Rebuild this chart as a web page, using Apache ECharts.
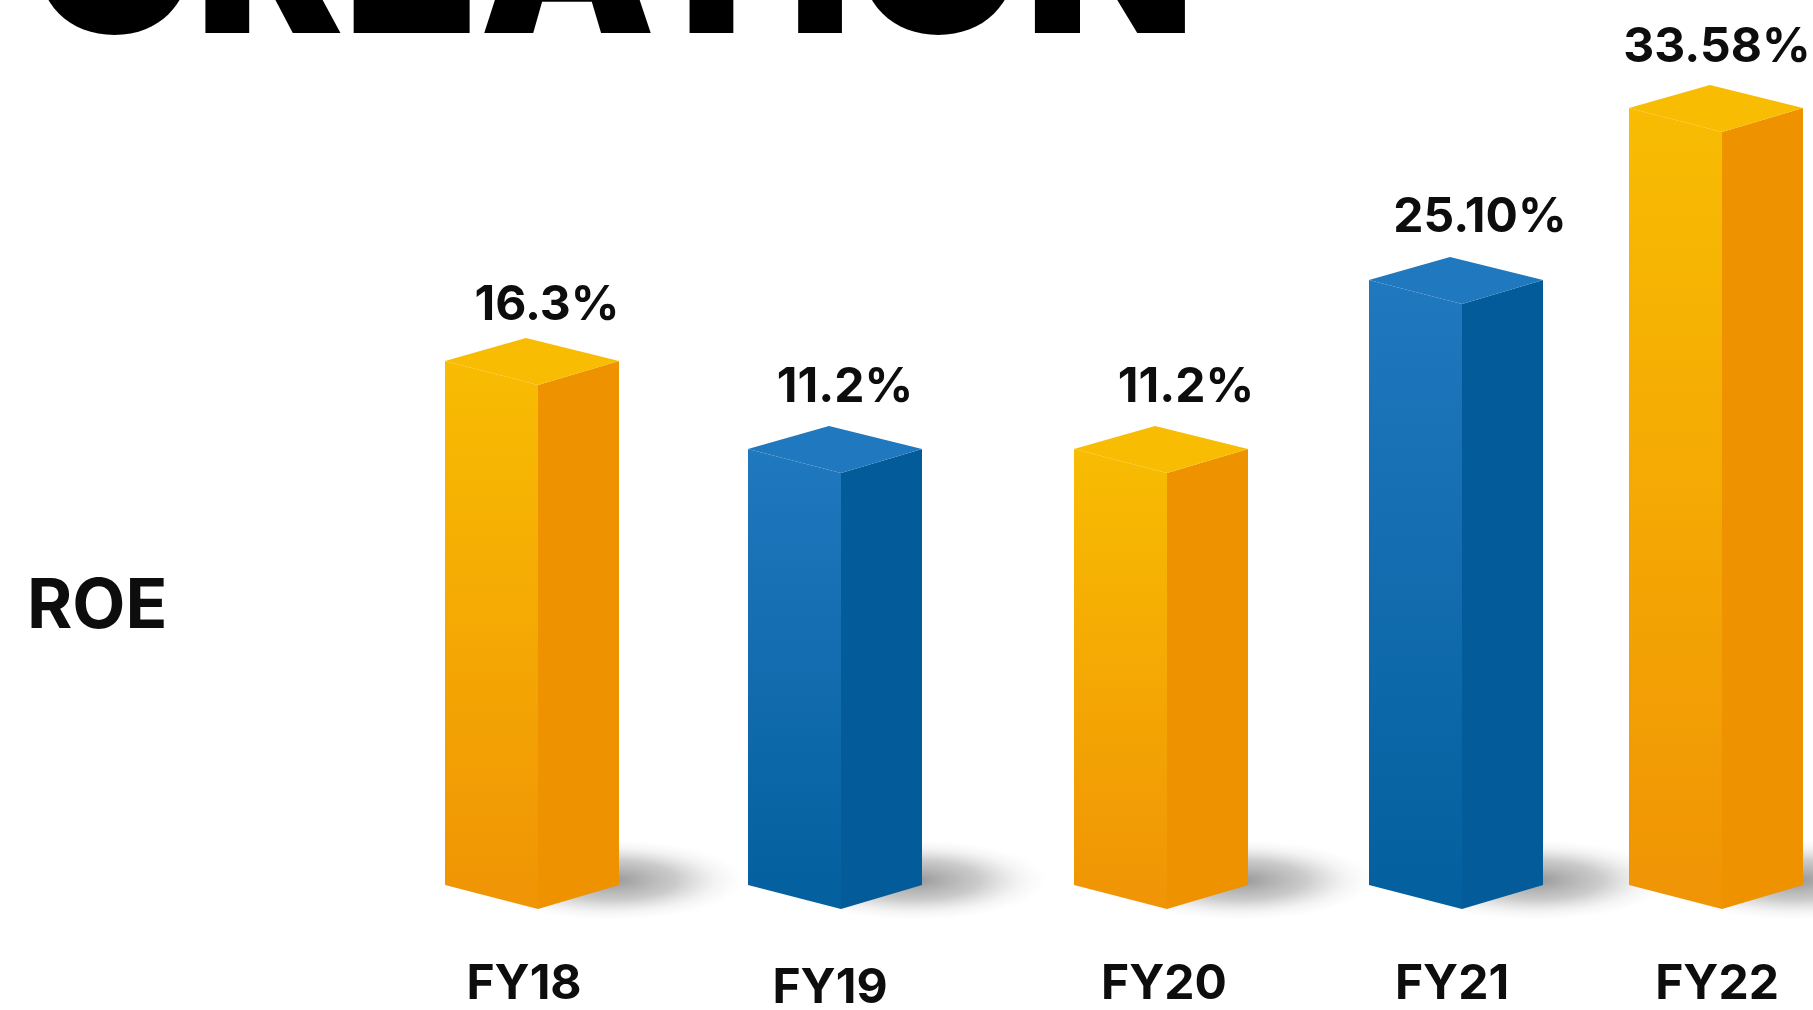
<!DOCTYPE html>
<html>
<head>
<meta charset="utf-8">
<style>html,body{margin:0;padding:0;background:#fff}#c{width:1813px;height:1010px}</style>
<script src="https://cdn.jsdelivr.net/npm/echarts@6/dist/echarts.min.js"></script>
</head>
<body>
<div id="c"></div>
<script>
// Data
const years = ['FY18', 'FY19', 'FY20', 'FY21', 'FY22'];
const roeLabels = ['16.3%', '11.2%', '11.2%', '25.10%', '33.58%'];
// Drawn bar heights (the artwork is not to scale with its printed labels)
const barHeights = [524, 436, 436, 605, 777];
const barTone = ['amber', 'blue', 'amber', 'blue', 'amber'];

// Layout: the artwork's bars are unevenly spaced around the category centres
const barNudge = [2, 8, 37, 35, -2];
const labelNudge = [17, 18, 62, 59, -1];
const labelLift = [55, 61, 61, 62, 60];
const axisNudge = [-6, 3, 40, 31, -1];
const axisDrop = [0, 4, 0, 0, 0];

const FONT = 'Inter';
const W = 174, MID = 93, APEX = 81, RISE = 23, DROP = 24;
const TONES = {
  amber: { top: '#F8BC02', leftA: '#F8BC02', leftB: '#F09405', right: '#EE9200' },
  blue:  { top: '#2078BE', leftA: '#2078BE', leftB: '#035F9E', right: '#035C99' }
};

const chart = echarts.init(document.getElementById('c'));

function renderBar(params, api) {
  const i = api.value(0);
  const base = api.coord([i, 0]);
  const top = api.coord([i, api.value(1)]);
  const x0 = base[0] - W / 2 + barNudge[i];
  const xm = x0 + MID, xa = x0 + APEX, x1 = x0 + W;
  const yB = base[1], yT = top[1];
  const t = TONES[barTone[i]];
  const poly = (points, fill) => ({ type: 'polygon', shape: { points }, style: { fill } });
  return {
    type: 'group',
    children: [
      {
        type: 'circle', x: x1 - 8, y: yB - 5, scaleX: 3.3, scaleY: 1,
        shape: { cx: 0, cy: 0, r: 40 },
        style: {
          fill: new echarts.graphic.RadialGradient(0.5, 0.5, 0.5, [
            { offset: 0, color: 'rgba(110,110,110,0.72)' },
            { offset: 0.5, color: 'rgba(140,140,140,0.45)' },
            { offset: 0.8, color: 'rgba(170,170,170,0.13)' },
            { offset: 1, color: 'rgba(190,190,190,0)' }
          ])
        }
      },
      poly([[x0, yT], [xm, yT + DROP], [xm, yB + DROP], [x0, yB]],
        new echarts.graphic.LinearGradient(0, 0, 0, 1, [
          { offset: 0, color: t.leftA }, { offset: 1, color: t.leftB }
        ])),
      poly([[xm, yT + DROP], [x1, yT], [x1, yB], [xm, yB + DROP]], t.right),
      poly([[x0, yT], [xa, yT - RISE], [x1, yT], [xm, yT + DROP]], t.top),
      {
        type: 'text', x: base[0] + labelNudge[i], y: yT - labelLift[i],
        style: {
          text: roeLabels[i], fill: '#0d0d0d', align: 'center', verticalAlign: 'middle',
          font: '700 48px ' + FONT
        }
      }
    ]
  };
}

chart.setOption({
  animation: false,
  backgroundColor: '#ffffff',
  title: [
    { text: 'CREATION', left: 24, top: -150,
      textStyle: { fontFamily: FONT, fontWeight: 900, fontSize: 222, color: '#000' } },
    { text: 'ROE', left: 22, top: 568,
      textStyle: { fontFamily: FONT, fontWeight: 700, fontSize: 69, color: '#0d0d0d' } }
  ],
  grid: { left: 381.5, width: 1485, top: 85, bottom: 125, outerBoundsMode: 'none' },
  xAxis: {
    type: 'category',
    data: years.map((y, i) => ({
      value: y,
      textStyle: {
        padding: [axisDrop[i], axisNudge[i] < 0 ? -2 * axisNudge[i] : 0, 0, axisNudge[i] > 0 ? 2 * axisNudge[i] : 0]
      }
    })),
    axisLine: { show: false }, axisTick: { show: false },
    axisLabel: { margin: 76, fontFamily: FONT, fontWeight: 700, fontSize: 48, color: '#0d0d0d' }
  },
  yAxis: { type: 'value', min: 0, max: 800, show: false, splitLine: { show: false } },
  series: [{
    type: 'custom',
    clip: false,
    renderItem: renderBar,
    encode: { x: 0, y: 1 },
    data: barHeights.map((h, i) => [i, h])
  }]
});
</script>
</body>
</html>
